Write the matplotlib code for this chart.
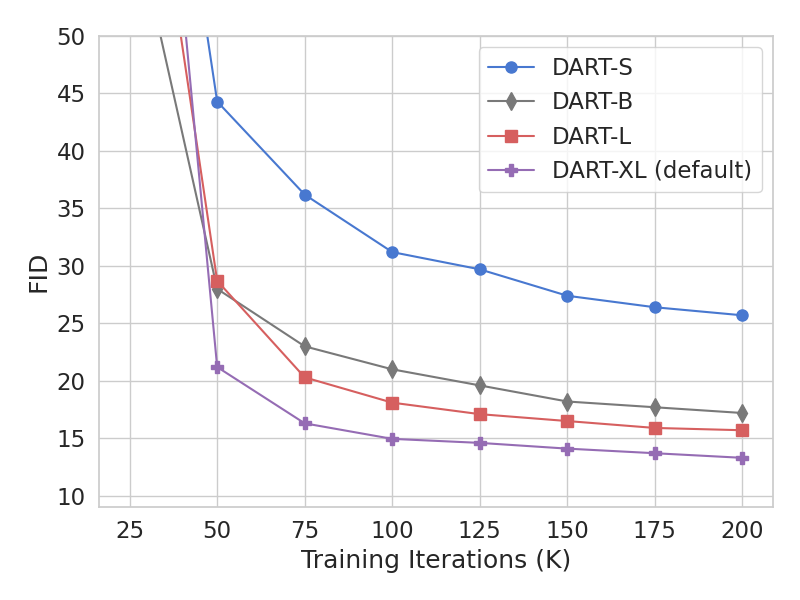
import matplotlib
matplotlib.use("Agg")
import matplotlib.pyplot as plt
import seaborn as sns

iterations = [25, 50, 75, 100, 125, 150, 175, 200]
fid_s = [95, 44.3, 36.2, 31.2, 29.7, 27.4, 26.4, 25.7]
fid_b = [62, 28.0, 23.0, 21.0, 19.6, 18.2, 17.7, 17.2]
fid_l = [80, 28.7, 20.3, 18.1, 17.1, 16.5, 15.9, 15.7]
fid_xl = [102, 21.2, 16.3, 14.95, 14.6, 14.1, 13.7, 13.3]

sns.set_theme(style="whitegrid", palette="muted", font_scale=1.5)
pal = sns.color_palette("muted")

fig, ax = plt.subplots(figsize=(8, 6), dpi=100)
ax.plot(iterations, fid_s, marker="o", color=pal[0], markersize=8, label="DART-S")
ax.plot(iterations, fid_b, marker="d", color=pal[7], markersize=9, label="DART-B")
ax.plot(iterations, fid_l, marker="s", color=pal[3], markersize=8, label="DART-L")
ax.plot(iterations, fid_xl, marker="P", color=pal[4], markersize=8, label="DART-XL (default)")

ax.set_ylim(9, 50)
ax.set_xticks([25, 50, 75, 100, 125, 150, 175, 200])
ax.set_yticks([10, 15, 20, 25, 30, 35, 40, 45, 50])
ax.set_xlabel("Training Iterations (K)")
ax.set_ylabel("FID")
ax.legend(loc="upper right")

plt.tight_layout()
plt.savefig("out.png")
plt.close()
